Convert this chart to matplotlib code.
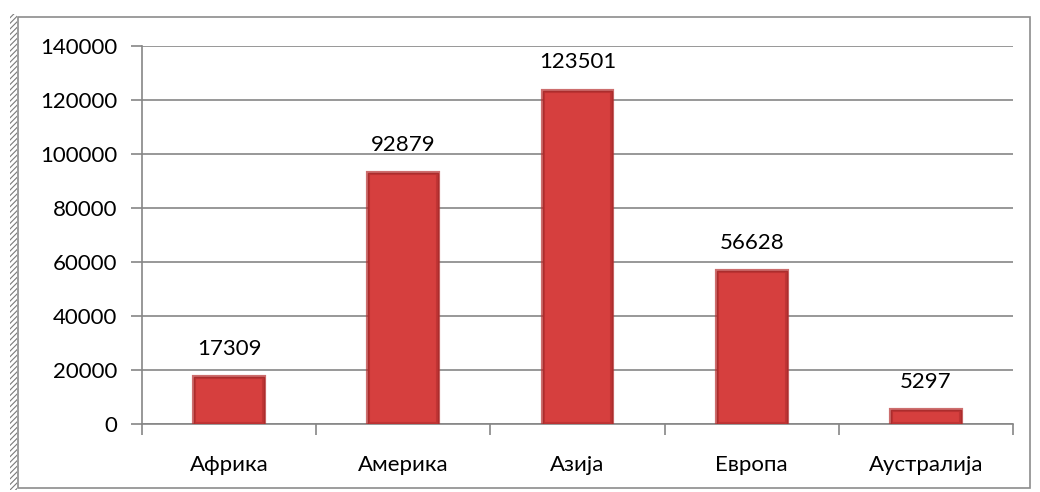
import numpy as np
import matplotlib.pyplot as plt
from matplotlib.patches import Rectangle

categories = ['Африка', 'Америка', 'Азија', 'Европа', 'Аустралија']
values = [17309, 92879, 123501, 56628, 5297]
yticks = [0, 20000, 40000, 60000, 80000, 100000, 120000, 140000]

plt.rcParams['font.family'] = ['Lato', 'DejaVu Sans']
plt.rcParams['hatch.color'] = '#7a7a7a'
plt.rcParams['hatch.linewidth'] = 0.8

fig = plt.figure(figsize=(10.4, 4.92), dpi=100)
ax = fig.add_axes([142/1040, 1-424/492, (1013-142)/1040, (424-46)/492])

x = np.arange(len(categories))
bars = ax.bar(x, values, width=0.4, color='#D63F3E', edgecolor='#8E2626', linewidth=1.0, zorder=3)
# bevel look: lighter inner rim
for b in bars:
    h = b.get_height()
    ax.add_patch(Rectangle((b.get_x(), 0), b.get_width(), h, facecolor='none',
                           edgecolor='#B83030', linewidth=3, zorder=4, alpha=0.7))

for xi, v in zip(x, values):
    ax.annotate(str(v), (xi, v), xytext=(0, 13), textcoords='offset points',
                ha='center', va='bottom', fontsize=16, color='black')

ax.set_xlim(-0.5, len(categories) - 0.5)
ax.set_ylim(0, 140000)
ax.set_yticks(yticks)
ax.set_yticklabels([str(t) for t in yticks], fontsize=16)
ax.set_xticks(x)
ax.set_xticklabels(categories, fontsize=16)
ax.set_xticks(np.arange(len(categories) + 1) - 0.5, minor=True)
ax.tick_params(axis='x', which='major', length=0, pad=22)
ax.tick_params(axis='x', which='minor', length=8, width=1.2, color='#868686', direction='out')
ax.tick_params(axis='y', length=8, width=1.2, color='#868686', direction='out', pad=10)
ax.grid(axis='y', color='#868686', linewidth=1.2, zorder=0)

for s in ['top', 'right']:
    ax.spines[s].set_visible(False)
for s in ['left', 'bottom']:
    ax.spines[s].set_color('#868686')
    ax.spines[s].set_linewidth(1.2)

# outer chart frame
fig.patches.append(Rectangle((18/1040, 1-488/492), (1030-18)/1040, (488-17)/492,
                             transform=fig.transFigure, fill=False, edgecolor='#8c8c8c', linewidth=1.2))
fig.patches.append(Rectangle((10/1040, 1-490/492), 7/1040, (490-14)/492,
                             transform=fig.transFigure, facecolor='white', edgecolor='#7a7a7a',
                             hatch='//////', linewidth=0))

fig.savefig('out.png', dpi=100)
